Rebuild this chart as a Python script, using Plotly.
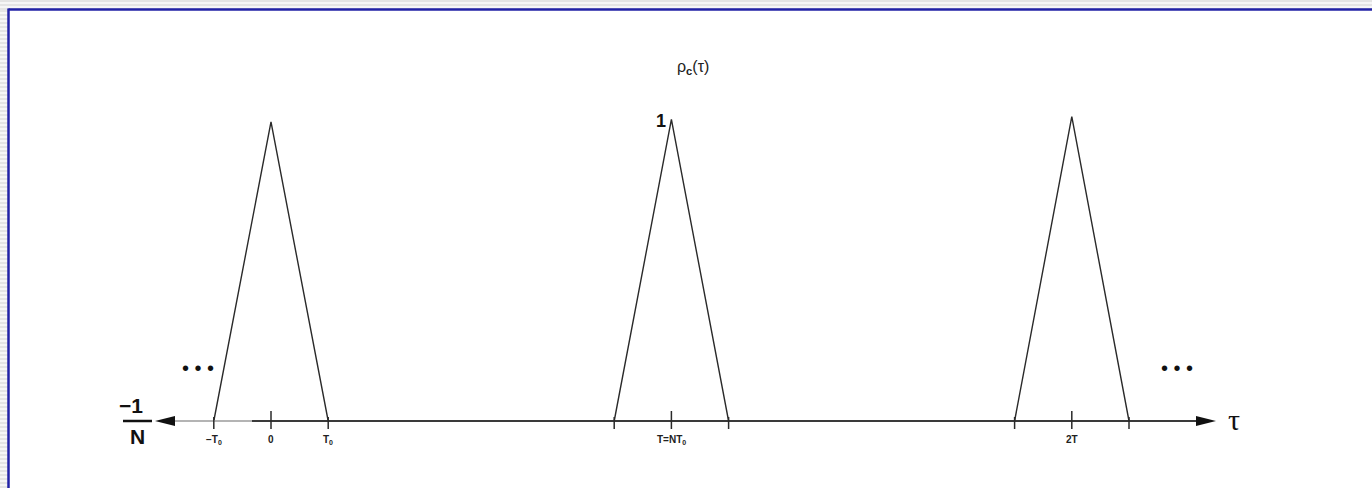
import plotly.graph_objects as go

# Periodic autocorrelation of a length-N sequence with chip time T0
N = 7
T0 = 1.0
T = N * T0
base_level = -1.0 / N

peak_centers = [0.0, T, 2 * T]
peak_values = [0.99, 1.0, 1.01]

tick_vals = [-T0, 0.0, T0, T, 2 * T]
tick_labels = ["\u2212T<sub>0</sub>", "0", "T<sub>0</sub>", "T=NT<sub>0</sub>", "2T"]

W, H = 1372, 488
px_per_x = 57.2
px_per_y = 264.0
x0_px, y_base_px = 271, 421
x_range = [-x0_px / px_per_x, (W - x0_px) / px_per_x]
y_top = base_level + y_base_px / px_per_y
y_range = [base_level - (H - y_base_px) / px_per_y, y_top]

def dy(px):
    return px / px_per_y

def dx(px):
    return px / px_per_x

fig = go.Figure()

# triangular correlation peaks
tx, ty = [], []
for c, p in zip(peak_centers, peak_values):
    tx += [c - T0, c, c + T0, None]
    ty += [base_level, p, base_level, None]
fig.add_trace(go.Scatter(x=tx, y=ty, mode="lines",
                         line=dict(color="#2a2a2a", width=1.4),
                         hoverinfo="skip", showlegend=False))

# time axis: pale stub on the left, solid line elsewhere
axis_left_tip = x_range[0] + dx(155)
axis_left_base = x_range[0] + dx(175)
axis_split = x_range[0] + dx(252)
axis_right_base = x_range[0] + dx(1196)
axis_right_tip = x_range[0] + dx(1216)
fig.add_trace(go.Scatter(x=[axis_left_base, axis_split], y=[base_level, base_level],
                         mode="lines", line=dict(color="#b4b4b4", width=2.2),
                         hoverinfo="skip", showlegend=False))
fig.add_trace(go.Scatter(x=[axis_split, axis_right_base], y=[base_level, base_level],
                         mode="lines", line=dict(color="#3a3a3a", width=2.2),
                         hoverinfo="skip", showlegend=False))

# tick marks at peak centres and triangle feet
kx, ky = [], []
for v in [0.0, T, 2 * T]:
    kx += [v, v, None]
    ky += [base_level + dy(10), base_level - dy(8), None]
for c in peak_centers:
    for v in (c - T0, c + T0):
        kx += [v, v, None]
        ky += [base_level + dy(4), base_level - dy(8), None]
fig.add_trace(go.Scatter(x=kx, y=ky, mode="lines",
                         line=dict(color="#2a2a2a", width=1.5),
                         hoverinfo="skip", showlegend=False))

shapes = []
# striped margin outside the frame
shapes.append(dict(type="rect", xref="paper", yref="paper", x0=0, x1=1, y0=0, y1=1,
                   fillcolor="#f6f6f6", line=dict(width=0), layer="below"))
for yy in range(0, 10, 4):
    shapes.append(dict(type="line", xref="paper", yref="paper", x0=0, x1=1,
                       y0=1 - (yy + 1) / H, y1=1 - (yy + 1) / H,
                       line=dict(color="#e4e4e4", width=2), layer="below"))
for yy in range(10, H, 4):
    shapes.append(dict(type="line", xref="paper", yref="paper", x0=0, x1=8 / W,
                       y0=1 - (yy + 1) / H, y1=1 - (yy + 1) / H,
                       line=dict(color="#e4e4e4", width=2), layer="below"))
shapes.append(dict(type="rect", xref="paper", yref="paper",
                   x0=9 / W, x1=1, y0=0, y1=1 - 10 / H,
                   fillcolor="white", line=dict(width=0), layer="below"))
shapes.append(dict(type="line", xref="paper", yref="paper",
                   x0=8.5 / W, x1=8.5 / W, y0=0, y1=1 - 8.5 / H,
                   line=dict(color="#2222a6", width=2.5)))
shapes.append(dict(type="line", xref="paper", yref="paper",
                   x0=8.5 / W, x1=1, y0=1 - 9.5 / H, y1=1 - 9.5 / H,
                   line=dict(color="#2222a6", width=2.5)))
# arrowheads at both ends of the axis
shapes.append(dict(type="path", xref="x", yref="y", xsizemode="pixel", ysizemode="pixel",
                   xanchor=axis_right_tip, yanchor=base_level,
                   path="M0,0 L-20,5 L-20,-5 Z", fillcolor="#111", line=dict(width=0)))
shapes.append(dict(type="path", xref="x", yref="y", xsizemode="pixel", ysizemode="pixel",
                   xanchor=axis_left_tip, yanchor=base_level,
                   path="M0,0 L20,5 L20,-5 Z", fillcolor="#111", line=dict(width=0)))
# fraction bar of the -1/N label
shapes.append(dict(type="line", xref="x", yref="y",
                   x0=x_range[0] + dx(123), x1=x_range[0] + dx(152),
                   y0=base_level, y1=base_level,
                   line=dict(color="#111", width=2.5)))

ann = []
sans = "Liberation Sans, Arial, sans-serif"
for v, lab in zip(tick_vals, tick_labels):
    ann.append(dict(x=v, y=base_level - dy(11), text="<b>" + lab + "</b>",
                    showarrow=False, xanchor="center", yanchor="top",
                    font=dict(family=sans, size=10, color="#222")))
ann.append(dict(x=T - dx(10), y=peak_values[1] - dy(2), text="<b>1</b>", showarrow=False,
                xanchor="center", yanchor="middle",
                font=dict(family=sans, size=18, color="#111")))
ann.append(dict(x=T + dx(22), y=y_top - dy(67), text="\u03c1<sub><b>c</b></sub>(\u03c4)",
                showarrow=False, xanchor="center", yanchor="middle",
                font=dict(family=sans, size=16, color="#222")))
ann.append(dict(x=axis_right_tip + dx(18), y=base_level + dy(2), text="\u03c4",
                showarrow=False, xanchor="center", yanchor="middle",
                font=dict(family="Liberation Serif, serif", size=30, color="#111")))
ann.append(dict(x=x_range[0] + dx(131), y=base_level + dy(2), text="<b>\u22121</b>",
                showarrow=False, xanchor="center", yanchor="bottom",
                font=dict(family=sans, size=21, color="#111")))
ann.append(dict(x=x_range[0] + dx(137), y=base_level - dy(2), text="<b>N</b>",
                showarrow=False, xanchor="center", yanchor="top",
                font=dict(family=sans, size=21, color="#111")))
for xc in (x_range[0] + dx(198), x_range[0] + dx(1177)):
    ann.append(dict(x=xc, y=base_level + dy(53), text="\u2022 \u2022 \u2022",
                    showarrow=False, xanchor="center", yanchor="middle",
                    font=dict(family=sans, size=20, color="#111")))

fig.update_layout(
    width=W, height=H,
    margin=dict(l=0, r=0, t=0, b=0),
    paper_bgcolor="white", plot_bgcolor="white",
    xaxis=dict(range=x_range, visible=False, fixedrange=True),
    yaxis=dict(range=y_range, visible=False, fixedrange=True),
    shapes=shapes, annotations=ann, showlegend=False,
)

fig.write_html("out.html")
